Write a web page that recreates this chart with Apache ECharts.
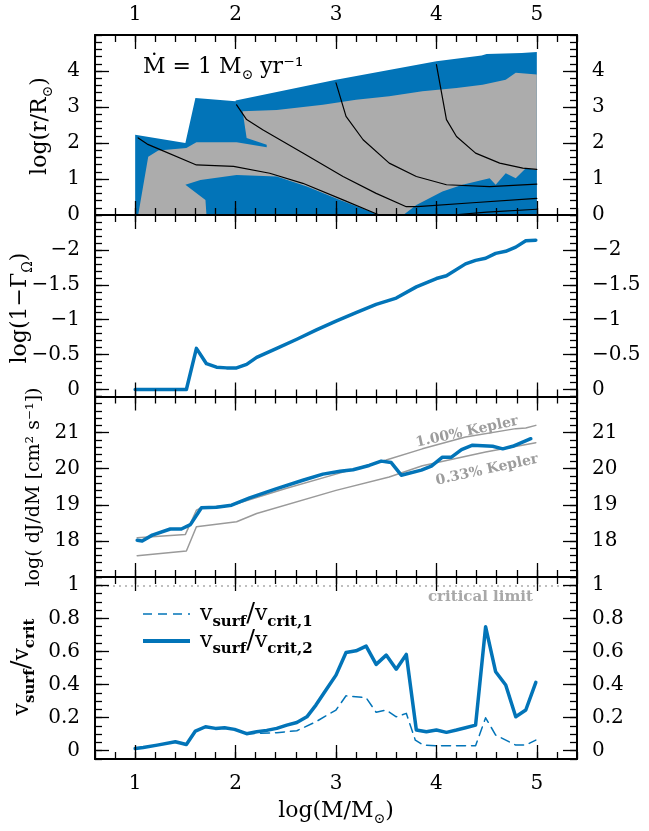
<!DOCTYPE html>
<html><head><meta charset="utf-8">
<script src="https://cdn.jsdelivr.net/npm/echarts@6/dist/echarts.min.js"></script>
<style>html,body{margin:0;padding:0;background:#fff}#c{width:649px;height:831px}</style>
</head><body><div id="c"></div>
<script>
// ---------------- data ----------------
const xMajorTicks = [1, 2, 3, 4, 5];
const p1YTicks = [0, 1, 2, 3, 4];
const p2YTicks = [0, -0.5, -1, -1.5, -2];
const p3YTicks = [18, 19, 20, 21];
const p4YTicks = [0, 0.2, 0.4, 0.6, 0.8, 1];

// Panel 1: structure regions, [log M, log r]
const envelopeOutline = [[1.0,0],[1.0,2.23],[1.5,2.0],[1.6,3.25],[2.0,3.16],[2.0,3.18],[3.0,3.76],[4.0,4.27],[4.45,4.43],[4.5,4.47],[4.85,4.5],[5.0,4.53],[5.0,0]];
const radiativeZone = [[1.03,0],[1.13,1.62],[1.23,1.79],[1.51,1.86],[1.61,2.02],[2.01,2.02],[2.31,1.88],[2.31,1.95],[2.11,2.14],[2.07,2.88],[2.41,2.92],[2.87,3.06],[3.2,3.2],[3.53,3.3],[3.86,3.44],[4.2,3.53],[4.46,3.62],[4.69,3.76],[4.79,3.95],[5.0,3.9],[5.0,0]];
const coreConvZone = [[1.5,0.84],[1.65,0.97],[2.01,1.11],[2.41,1.07],[2.71,0.79],[3.04,0.42],[3.3,0.14],[3.43,0],[1.71,0],[1.7,0.42]];
const shellConvZone = [[3.67,0],[3.8,0.28],[4.06,0.65],[4.26,0.84],[4.53,1.02],[4.59,0.84],[4.69,1.16],[4.79,1.02],[4.89,1.3],[5.0,1.25],[5.0,0]];
const contourA = [[1.03,2.14],[1.12,1.97],[1.22,1.85],[1.61,1.39],[1.98,1.35],[2.34,1.16],[2.67,0.88],[3.07,0.42],[3.43,0]];
const contourB = [[2.01,3.06],[2.11,2.65],[2.27,2.37],[2.67,1.72],[3.07,1.07],[3.4,0.6],[3.7,0.23],[3.81,0.23],[4.36,0.34],[5.0,0.46]];
const contourC = [[3.0,3.67],[3.1,2.74],[3.27,2.09],[3.53,1.44],[3.8,1.07],[4.1,0.84],[4.53,0.79],[5.0,0.86]];
const contourD = [[4.0,4.18],[4.1,2.65],[4.2,2.18],[4.39,1.72],[4.63,1.44],[4.86,1.3],[5.0,1.27]];
const contourE = [[4.16,0.0],[4.5,0.08],[5.0,0.16]];

// Panel 2: log(1 - Gamma_Omega)
const gammaMass = [1.0,1.51,1.61,1.71,1.81,1.91,2.01,2.11,2.21,2.41,2.61,2.8,3.0,3.2,3.4,3.6,3.8,4.0,4.1,4.29,4.39,4.49,4.59,4.69,4.79,4.89,4.99];
const gammaVals = [0,0,-0.59,-0.37,-0.32,-0.31,-0.31,-0.36,-0.46,-0.59,-0.72,-0.85,-0.98,-1.1,-1.22,-1.31,-1.47,-1.59,-1.63,-1.8,-1.85,-1.88,-1.95,-1.98,-2.04,-2.13,-2.14];

// Panel 3: log dJ/dM
const jMass = [1.02,1.07,1.17,1.35,1.46,1.55,1.66,1.81,1.96,2.14,2.41,2.67,2.87,3.04,3.17,3.33,3.45,3.55,3.65,3.85,3.95,4.06,4.15,4.25,4.36,4.56,4.66,4.76,4.94];
const jVals = [18.02,18.0,18.16,18.33,18.33,18.45,18.92,18.93,18.99,19.19,19.45,19.68,19.85,19.93,19.97,20.09,20.21,20.17,19.82,19.96,20.07,20.32,20.32,20.53,20.65,20.62,20.55,20.62,20.83];
const kep100Mass = [1.02,1.5,1.61,1.66,1.96,2.5,3.0,3.5,3.86,4.29,4.79,4.89,4.99];
const kep100Vals = [18.09,18.18,18.85,18.92,18.99,19.45,19.85,20.24,20.55,20.88,21.11,21.13,21.2];
const kep033Mass = [1.02,1.51,1.61,2.01,2.21,3.0,3.53,3.86,4.49,4.99];
const kep033Vals = [17.59,17.72,18.39,18.53,18.76,19.4,19.77,20.08,20.46,20.72];

// Panel 4: v_surf / v_crit
const vMass2 = [1.0,1.08,1.22,1.4,1.51,1.6,1.7,1.8,1.89,1.99,2.11,2.21,2.31,2.41,2.51,2.61,2.71,2.8,2.9,3.0,3.1,3.2,3.3,3.4,3.5,3.6,3.7,3.8,3.9,4.0,4.1,4.2,4.29,4.39,4.49,4.59,4.69,4.79,4.89,4.99];
const vCrit2 = [0.014,0.02,0.034,0.054,0.038,0.119,0.145,0.135,0.139,0.129,0.103,0.115,0.123,0.135,0.155,0.171,0.205,0.276,0.367,0.457,0.594,0.604,0.632,0.522,0.578,0.493,0.582,0.125,0.115,0.125,0.111,0.125,0.139,0.155,0.749,0.477,0.397,0.205,0.246,0.413];
const vMass1 = [1.0,1.08,1.22,1.4,1.51,1.6,1.7,1.8,1.89,1.99,2.11,2.21,2.41,2.61,2.8,3.0,3.1,3.3,3.4,3.5,3.6,3.7,3.79,3.87,4.0,4.39,4.49,4.59,4.79,4.89,4.99];
const vCrit1 = [0.014,0.02,0.034,0.054,0.038,0.115,0.145,0.135,0.139,0.129,0.103,0.105,0.109,0.121,0.175,0.246,0.332,0.32,0.232,0.246,0.205,0.226,0.064,0.034,0.03,0.03,0.199,0.095,0.034,0.034,0.064];
const criticalLimit = 1;

// ---------------- style ----------------
const FONT = '"DejaVu Serif", serif';
const BLUE = '#0274B8';
const GREY_FILL = '#ACACAC';
const GREY_LINE = '#9A9A9A';
const GL = 95, GR = 72;

const panels = [
  {top: 35,    h: 180,   min: 0,     max: 5,    minor: 0.2,  major: [1,2,3,4],                 labels: p1YTicks, inverse: false},
  {top: 215,   h: 181.5, min: -2.5,  max: 0.1,  minor: 0.1,  major: [-2,-1.5,-1,-0.5,0],        labels: p2YTicks, inverse: true},
  {top: 396.5, h: 180.5, min: 17,    max: 22,   minor: 0.2,  major: [18,19,20,21],             labels: p3YTicks, inverse: false},
  {top: 577,   h: 182,   min: -0.05, max: 1.05, minor: 0.05, major: [0,0.2,0.4,0.6,0.8,1],     labels: p4YTicks, inverse: false}
];

function fmt(v) {
  const r = Math.round(v * 100) / 100;
  return (r < 0 ? '\u2212' : '') + Math.abs(r);
}
const lbl = {fontFamily: FONT, fontSize: 20, color: '#000'};
const tickLine = {color: '#000', width: 1.3};

const grids = [], xAxes = [], yAxes = [];
panels.forEach((p, i) => {
  grids.push({left: GL, right: GR, top: p.top, height: p.h});
  ['bottom', 'top'].forEach(pos => {
    const showLbl = (pos === 'bottom' && i === 3) || (pos === 'top' && i === 0);
    xAxes.push({gridIndex: i, type: 'value', min: 0.6, max: 5.4, interval: 0.2, position: pos, offset: 0, z: 10,
      axisLine: {show: true, onZero: false, lineStyle: {color: '#000', width: 2}},
      axisTick: {show: true, inside: true, length: 7, lineStyle: tickLine},
      axisLabel: Object.assign({show: showLbl, customValues: xMajorTicks, formatter: fmt, margin: pos === 'top' ? 10 : 15}, lbl),
      splitLine: {show: false}});
  });
  ['bottom', 'top'].forEach(pos => {
    xAxes.push({gridIndex: i, type: 'value', min: 0.6, max: 5.4, position: pos, offset: 0, z: 10,
      axisLine: {show: false, onZero: false},
      axisTick: {show: true, inside: true, length: 14, customValues: xMajorTicks, lineStyle: tickLine},
      axisLabel: {show: false}, splitLine: {show: false}});
  });
  ['left', 'right'].forEach(pos => {
    yAxes.push({gridIndex: i, type: 'value', min: p.min, max: p.max, interval: p.minor, inverse: p.inverse, position: pos, offset: 0, z: 10,
      axisLine: {show: true, onZero: false, lineStyle: {color: '#000', width: 2}},
      axisTick: {show: true, inside: true, length: 7, lineStyle: tickLine},
      axisLabel: Object.assign({show: true, customValues: p.labels, formatter: fmt, margin: 15}, lbl),
      splitLine: {show: false}});
  });
  ['left', 'right'].forEach(pos => {
    yAxes.push({gridIndex: i, type: 'value', min: p.min, max: p.max, inverse: p.inverse, position: pos, offset: 0, z: 10,
      axisLine: {show: false, onZero: false},
      axisTick: {show: true, inside: true, length: 14, customValues: p.major, lineStyle: tickLine},
      axisLabel: {show: false}, splitLine: {show: false}});
  });
});

function polySeries(pts, color) {
  return {type: 'custom', xAxisIndex: 0, yAxisIndex: 0, data: pts, silent: true,
    renderItem: (params, api) => {
      if (params.dataIndex !== 0) return null;
      return {type: 'polygon', shape: {points: pts.map(p => api.coord(p))}, style: {fill: color, stroke: null}};
    }};
}
function lineSeries(panel, data, color, width, dash) {
  return {type: 'line', xAxisIndex: panel * 4, yAxisIndex: panel * 4, data: data, symbol: 'none', silent: true,
    lineStyle: {color: color, width: width, type: dash || 'solid', cap: 'round', join: 'round'}};
}
const zip = (a, b) => a.map((v, k) => [v, b[k]]);

const series = [
  polySeries(envelopeOutline, BLUE),
  polySeries(radiativeZone, GREY_FILL),
  polySeries(coreConvZone, BLUE),
  polySeries(shellConvZone, BLUE),
  lineSeries(0, contourA, '#000', 1.2),
  lineSeries(0, contourB, '#000', 1.2),
  lineSeries(0, contourC, '#000', 1.2),
  lineSeries(0, contourD, '#000', 1.2),
  lineSeries(0, contourE, '#000', 1.2),
  lineSeries(1, zip(gammaMass, gammaVals), BLUE, 3.5),
  lineSeries(2, zip(kep100Mass, kep100Vals), GREY_LINE, 1.5),
  lineSeries(2, zip(kep033Mass, kep033Vals), GREY_LINE, 1.5),
  lineSeries(2, zip(jMass, jVals), BLUE, 3.5),
  Object.assign(lineSeries(3, zip(vMass1, vCrit1), BLUE, 1.5, [9, 6]), {
    markLine: {silent: true, symbol: 'none', label: {show: false},
      lineStyle: {type: [2, 4], color: '#AAAAAA', width: 1.5}, data: [{yAxis: criticalLimit}]}}),
  lineSeries(3, zip(vMass2, vCrit2), BLUE, 3.5)
];

const nameRich = {
  m: {fontFamily: FONT, fontSize: 22, fill: '#000'},
  s: {fontFamily: FONT, fontSize: 14, fill: '#000', verticalAlign: 'bottom', lineHeight: 30},
  b: {fontFamily: FONT, fontSize: 15, fontWeight: 'bold', fill: '#000', verticalAlign: 'bottom', lineHeight: 32},
  sl: {fontFamily: FONT, fontSize: 26, fill: '#000'},
  sm: {fontFamily: FONT, fontSize: 19, fill: '#000'}
};
function txt(x, y, text, rich, rot, align) {
  return {type: 'text', x: x, y: y, rotation: rot || 0, z: 20, silent: true,
    style: {text: text, rich: rich, align: align || 'center', verticalAlign: 'middle'}};
}
const greyRich = {g: {fontFamily: FONT, fontSize: 14, fontWeight: 'bold', fill: '#9C9C9C'}};
const legRich = {
  m: {fontFamily: FONT, fontSize: 22, fill: '#000'},
  sl: {fontFamily: FONT, fontSize: 26, fill: '#000'},
  b: {fontFamily: FONT, fontSize: 15, fontWeight: 'bold', fill: '#000', verticalAlign: 'bottom', lineHeight: 32}
};

const graphic = [
  txt(143, 67, '{m|\u1E40 = 1 M}{s|\u2299}{m| yr\u207B\u00B9}', nameRich, 0, 'left'),
  txt(467, 432, '{g|1.00% Kepler}', greyRich, 12.3 * Math.PI / 180),
  txt(487, 470, '{g|0.33% Kepler}', greyRich, 12.3 * Math.PI / 180),
  txt(533, 597, '{g|critical limit}', {g: {fontFamily: FONT, fontSize: 15, fontWeight: 'bold', fill: '#A8A8A8'}}, 0, 'right'),
  {type: 'line', z: 20, silent: true, shape: {x1: 143, y1: 614, x2: 190, y2: 614}, style: {stroke: BLUE, lineWidth: 1.5, lineDash: [9, 6]}},
  {type: 'line', z: 20, silent: true, shape: {x1: 143, y1: 641, x2: 190, y2: 641}, style: {stroke: BLUE, lineWidth: 4}},
  txt(200, 614, '{m|v}{b|surf}{sl|/}{m|v}{b|crit,1}', legRich, 0, 'left'),
  txt(200, 641, '{m|v}{b|surf}{sl|/}{m|v}{b|crit,2}', legRich, 0, 'left'),
  txt(40, 126, '{m|log(r/R}{s|\u2299}{m|)}', nameRich, Math.PI / 2),
  txt(20, 308, '{m|log(1\u2212\u0393}{s|\u03A9}{m|)}', nameRich, Math.PI / 2),
  txt(34, 487, '{sm|log( dJ/dM [cm\u00B2 s\u207B\u00B9])}', nameRich, Math.PI / 2),
  txt(22, 667, '{m|v}{b|surf}{sl|/}{m|v}{b|crit}', nameRich, Math.PI / 2),
  txt(336, 811, '{m|log(M/M}{s|\u2299}{m|)}', nameRich, 0)
];

const chart = echarts.init(document.getElementById('c'), null, {renderer: 'canvas'});
chart.setOption({
  animation: false,
  backgroundColor: '#fff',
  grid: grids,
  xAxis: xAxes,
  yAxis: yAxes,
  series: series,
  graphic: graphic
});
</script></body></html>
